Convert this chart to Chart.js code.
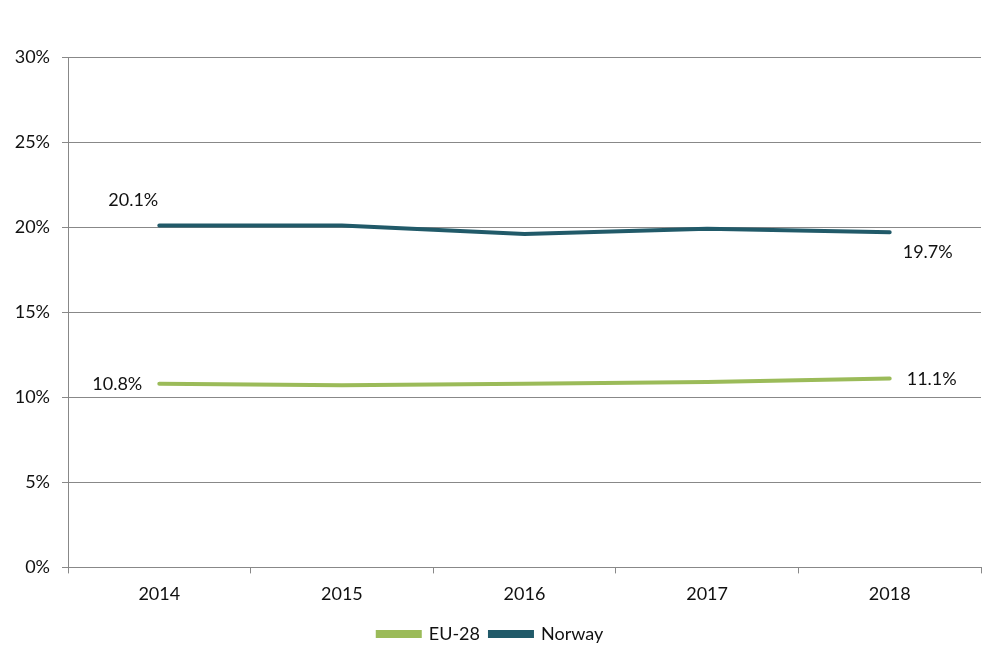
<!DOCTYPE html>
<html><head><meta charset="utf-8">
<script src="https://cdn.jsdelivr.net/npm/chart.js@4/dist/chart.umd.min.js"></script>
<style>html,body{margin:0;padding:0;background:#fff}#wrap{width:1004px;height:669px}</style>
</head><body><div id="wrap"><canvas id="c"></canvas></div>
<script>
const categories = ['2014','2015','2016','2017','2018'];
const eu28 = [10.8, 10.7, 10.8, 10.9, 11.1];
const norway = [20.1, 20.1, 19.6, 19.9, 19.7];
const yTicks = [0,5,10,15,20,25,30];
const FONT = 'Lato, "Open Sans", sans-serif';

const labelPlugin = {
  id: 'endLabels',
  afterDatasetsDraw(chart) {
    const ctx = chart.ctx;
    const x = chart.scales.x, y = chart.scales.y;
    ctx.save();
    ctx.font = '18px ' + FONT;
    ctx.fillStyle = '#111';
    ctx.textBaseline = 'middle';
    const first = 0, last = categories.length - 1;
    ctx.textAlign = 'center';
    ctx.fillText(norway[first].toFixed(1) + '%', x.getPixelForValue(first) - 26, y.getPixelForValue(norway[first]) - 25);
    ctx.textAlign = 'left';
    ctx.fillText(norway[last].toFixed(1) + '%', x.getPixelForValue(last) + 13, y.getPixelForValue(norway[last]) + 20);
    ctx.textAlign = 'right';
    ctx.fillText(eu28[first].toFixed(1) + '%', x.getPixelForValue(first) - 17, y.getPixelForValue(eu28[first]) + 1);
    ctx.textAlign = 'left';
    ctx.fillText(eu28[last].toFixed(1) + '%', x.getPixelForValue(last) + 17, y.getPixelForValue(eu28[last]) + 1);
    ctx.restore();
  }
};

new Chart(document.getElementById('c'), {
  type: 'line',
  data: {
    labels: categories,
    datasets: [
      { label: 'EU-28', data: eu28, borderColor: '#9BBB59', backgroundColor: '#9BBB59', borderWidth: 4, pointRadius: 0, tension: 0, borderCapStyle: 'round' },
      { label: 'Norway', data: norway, borderColor: '#215A69', backgroundColor: '#215A69', borderWidth: 4, pointRadius: 0, tension: 0, borderCapStyle: 'round' }
    ]
  },
  options: {
    responsive: true, maintainAspectRatio: false, animation: false,
    layout: { padding: { top: 57, right: 23, left: 0, bottom: 16 } },
    plugins: {
      tooltip: { enabled: false },
      legend: {
        position: 'bottom',
        labels: { boxWidth: 42, boxHeight: 4, color: '#111', font: { family: FONT, size: 18 }, padding: 10 }
      }
    },
    scales: {
      x: {
        offset: true,
        grid: { display: true, drawOnChartArea: false, offset: true, color: '#888', tickLength: 6 },
        border: { display: true, color: '#888' },
        ticks: { color: '#111', font: { family: FONT, size: 18 }, padding: 10, maxRotation: 0 }
      },
      y: {
        min: 0, max: 30,
        afterFit(s) { s.width = 68; },
        afterBuildTicks(s) { s.ticks = yTicks.map(v => ({ value: v })); },
        grid: { color: '#888', tickLength: 6 },
        border: { display: true, color: '#888' },
        ticks: { color: '#111', font: { family: FONT, size: 18 }, padding: 12, callback: v => v + '%' }
      }
    }
  },
  plugins: [labelPlugin]
});
</script></body></html>
